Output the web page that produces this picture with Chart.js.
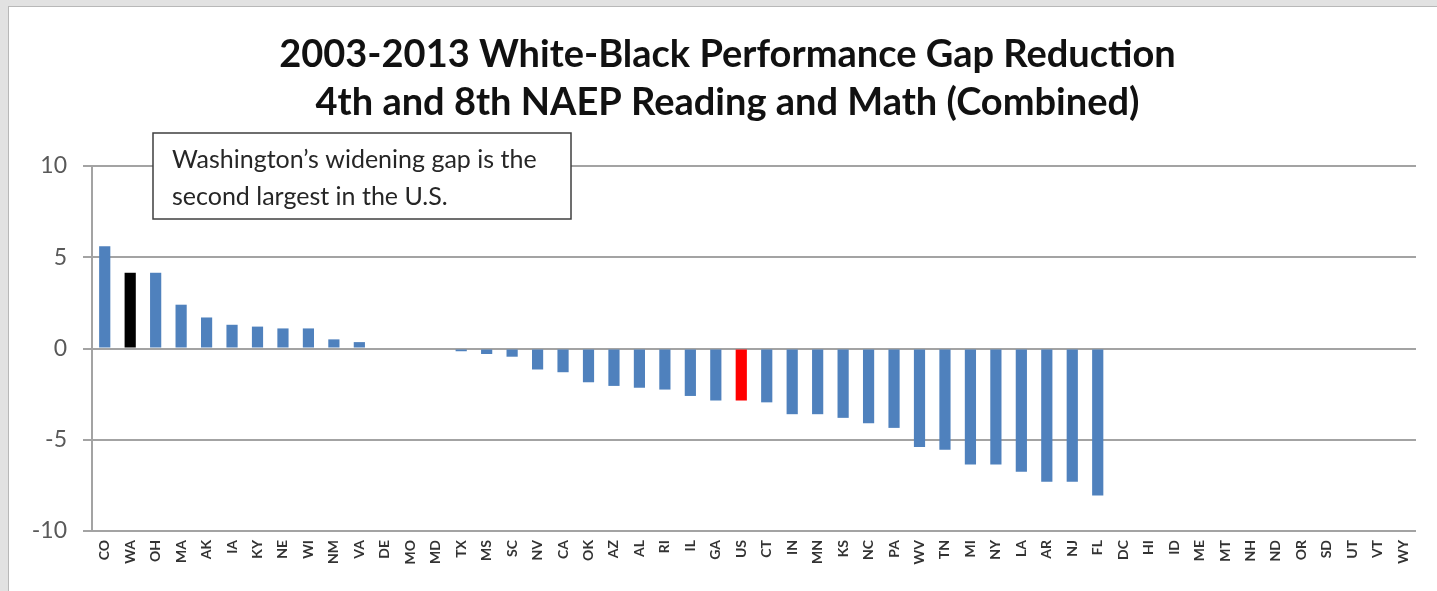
<!DOCTYPE html>
<html>
<head>
<meta charset="utf-8">
<script src="https://cdn.jsdelivr.net/npm/chart.js@4.4.1/dist/chart.umd.min.js"></script>
<style>
  html, body { margin: 0; padding: 0; background: #e2e2e2; }
  #wrap { position: relative; width: 1437px; height: 591px; overflow: hidden; }
  #frame { position: absolute; left: 8px; top: 6px; right: 0; bottom: 0; background: #fff;
           border-left: 1px solid #b8b8b8; border-top: 1px solid #b8b8b8; }
  #gapChart { position: absolute; left: 0; top: 0; }
</style>
</head>
<body>
<div id="wrap">
  <div id="frame"></div>
  <canvas id="gapChart" width="1437" height="591"></canvas>
</div>
<script>
// states, sorted by gap change 2003-2013
const states = ['CO','WA','OH','MA','AK','IA','KY','NE','WI','NM','VA','DE','MO','MD','TX','MS','SC','NV','CA','OK',
  'AZ','AL','RI','IL','GA','US','CT','IN','MN','KS','NC','PA','WV','TN','MI','NY','LA','AR','NJ','FL',
  'DC','HI','ID','ME','MT','NH','ND','OR','SD','UT','VT','WY'];

// gap change (points); states without data left empty
const gapChange = [5.6, 4.15, 4.15, 2.4, 1.7, 1.3, 1.2, 1.1, 1.1, 0.5, 0.35, 0, 0, 0, -0.15, -0.3, -0.45, -1.15, -1.3, -1.85,
  -2.05, -2.15, -2.25, -2.6, -2.85, -2.85, -2.95, -3.6, -3.6, -3.8, -4.1, -4.35, -5.4, -5.55, -6.35, -6.35, -6.75, -7.3, -7.3, -8.05,
  null, null, null, null, null, null, null, null, null, null, null, null];

const yTicks = [-10, -5, 0, 5, 10];

const titleLines = ['2003-2013 White-Black Performance Gap Reduction', '4th and 8th NAEP Reading and Math (Combined)'];
const noteLines = ['Washington\u2019s widening gap is the', 'second largest in the U.S.'];

const barColors = states.map(s => s === 'WA' ? '#000000' : (s === 'US' ? '#ff0000' : '#4f81bd'));

const FONT = 'Lato, "Open Sans", sans-serif';

// two-line title, centred a little right of the canvas middle like the original
const chartTitle = {
  id: 'chartTitle',
  afterDraw(chart) {
    const ctx = chart.ctx;
    const cx = chart.width / 2 + 9;
    ctx.save();
    ctx.fillStyle = '#111111';
    ctx.font = 'bold 38px ' + FONT;
    ctx.textAlign = 'center';
    ctx.textBaseline = 'middle';
    ctx.fillText(titleLines[0], cx, 55);
    ctx.fillText(titleLines[1], cx, 103);
    ctx.restore();
  }
};

// text box in the upper left
const noteBox = {
  id: 'noteBox',
  afterDraw(chart) {
    const ctx = chart.ctx;
    const area = chart.chartArea;
    const x = area.left + 61, y = area.top - 33, w = 418, h = 86;
    ctx.save();
    ctx.fillStyle = '#ffffff';
    ctx.fillRect(x, y, w, h);
    ctx.strokeStyle = '#3f3f3f';
    ctx.lineWidth = 1.5;
    ctx.strokeRect(x, y, w, h);
    ctx.fillStyle = '#262626';
    ctx.font = '25px ' + FONT;
    ctx.textBaseline = 'middle';
    ctx.fillText(noteLines[0], x + 19, y + 27);
    ctx.fillText(noteLines[1], x + 19, y + 64);
    ctx.restore();
  }
};

new Chart(document.getElementById('gapChart').getContext('2d'), {
  type: 'bar',
  data: {
    labels: states,
    datasets: [{
      data: gapChange,
      backgroundColor: barColors,
      barPercentage: 0.44,
      categoryPercentage: 1.0
    }]
  },
  options: {
    responsive: false,
    animation: false,
    layout: { padding: { left: 10, right: 21, top: 166, bottom: 0 } },
    plugins: {
      legend: { display: false },
      tooltip: { enabled: false },
      title: { display: false }
    },
    scales: {
      x: {
        grid: { display: false, drawTicks: false },
        border: { display: false },
        ticks: {
          autoSkip: false,
          maxRotation: 90,
          minRotation: 90,
          padding: 9,
          color: '#333333',
          font: { family: FONT, size: 14, weight: 'bold' }
        },
        afterFit(scale) { scale.height = 60; }
      },
      y: {
        min: -10,
        max: 10,
        afterBuildTicks(scale) { scale.ticks = yTicks.map(v => ({ value: v })); },
        grid: { color: '#a3a3a3', lineWidth: 2, tickLength: 9, drawTicks: true },
        border: { display: true, color: '#a3a3a3', width: 2 },
        ticks: {
          padding: 16,
          color: '#595959',
          font: { family: FONT, size: 23 }
        },
        afterFit(scale) { scale.width = 82; }
      }
    }
  },
  plugins: [chartTitle, noteBox]
});
</script>
</body>
</html>
